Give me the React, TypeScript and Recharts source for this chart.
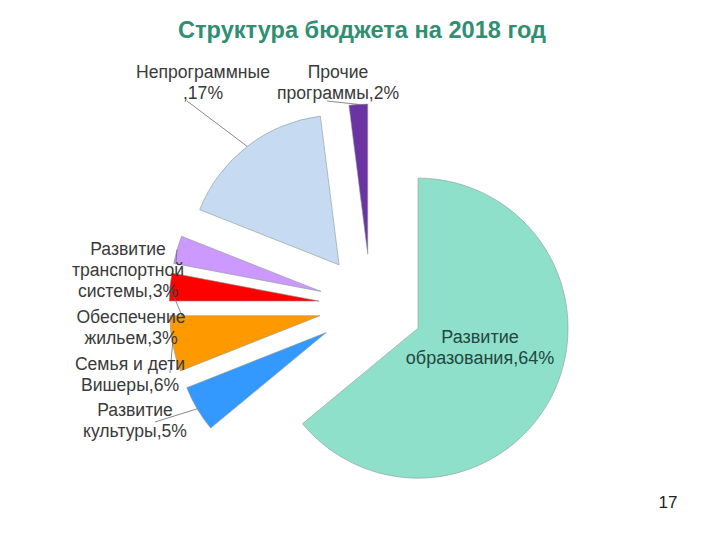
import React from 'react';
import { PieChart, Pie, Cell, Sector } from 'recharts';

// budget structure, 2018 (share in %)
const NAMES = [
  'Развитие\nобразования',
  'Развитие\nкультуры',
  'Семья и дети\nВишеры',
  'Обеспечение\nжильем',
  'Развитие\nтранспортной\nсистемы',
  'Непрограммные\n',
  'Прочие\nпрограммы',
];
const SHARES = [64, 5, 6, 3, 3, 17, 2];

const COLORS = ['#8ee0cb', '#3399ff', '#ff9900', '#ff0000', '#cc99ff', '#c6daf1', '#6c33a3'];

// label placement (centre of first line) and leader-line start, per slice
const LABEL_AT = [
  [480, 337], [135, 410], [130, 364], [131, 317], [128, 249], [203, 72], [338, 72],
];
const LEADER_FROM: (number[] | null)[] = [
  null, [155, 422], [170, 373], [183, 318], [176, 262], [187, 101], [327, 101],
];

const data = NAMES.map((name, i) => ({ name, value: SHARES[i] }));

const RAD = Math.PI / 180;
const EXPLODE = 52;

const shift = (cx: number, cy: number, midAngle: number) => ({
  x: cx + EXPLODE * Math.cos(midAngle * RAD),
  y: cy - EXPLODE * Math.sin(midAngle * RAD),
});

const ExplodedSector = (props: any) => {
  const { cx, cy, midAngle } = props;
  const p = shift(cx, cy, midAngle);
  return <Sector {...props} cx={p.x} cy={p.y} stroke="#8c9a96" strokeWidth={0.6} />;
};

const renderLabel = (props: any) => {
  const { cx, cy, midAngle, outerRadius, index, name, value } = props;
  const lines = `${name},${value}%`.split('\n');
  const [lx, ly] = LABEL_AT[index];
  const from = LEADER_FROM[index];
  const tip = shift(cx, cy, midAngle);
  const ax = tip.x + outerRadius * Math.cos(midAngle * RAD);
  const ay = tip.y - outerRadius * Math.sin(midAngle * RAD);
  const inside = index === 0;
  return (
    <g key={`lbl-${index}`}>
      {from && <line x1={from[0]} y1={from[1]} x2={ax} y2={ay} stroke="#6b6b6b" strokeWidth={0.8} />}
      <text
        textAnchor="middle"
        fontFamily="Arial, 'Liberation Sans', sans-serif"
        fontSize={inside ? 18 : 17.6}
        fill={inside ? '#24473f' : '#3a3a3a'}
      >
        {lines.map((t, i) => (
          <tspan key={i} x={lx} y={ly + i * 21} dominantBaseline="central">{t}</tspan>
        ))}
      </text>
    </g>
  );
};

export default function App() {
  return (
    <div style={{ position: 'absolute', left: 0, top: 0, width: 720, height: 540, background: '#fff' }}>
      <div
        style={{
          position: 'absolute', left: 0, top: 16, width: 724, textAlign: 'center',
          fontFamily: "Arial, 'Liberation Sans', sans-serif", fontWeight: 'bold', fontSize: 23.6,
          color: '#2f8f72', lineHeight: '28px',
        }}
      >
        Структура бюджета на 2018 год
      </div>
      <PieChart
        width={720}
        height={540}
        margin={{ top: 0, right: 0, bottom: 0, left: 0 }}
        style={{ position: 'absolute', left: 0, top: 0 }}
      >
        <Pie
          data={data}
          dataKey="value"
          nameKey="name"
          cx={371}
          cy={306}
          outerRadius={150}
          startAngle={90}
          endAngle={-270}
          shape={ExplodedSector}
          label={renderLabel}
          labelLine={false}
          isAnimationActive={false}
        >
          {data.map((entry, index) => (
            <Cell key={`cell-${index}`} fill={COLORS[index % COLORS.length]} />
          ))}
        </Pie>
      </PieChart>
      <div
        style={{
          position: 'absolute', left: 650, top: 493, width: 36, textAlign: 'center',
          fontFamily: "Arial, 'Liberation Sans', sans-serif", fontSize: 17, color: '#222',
        }}
      >
        17
      </div>
    </div>
  );
}
